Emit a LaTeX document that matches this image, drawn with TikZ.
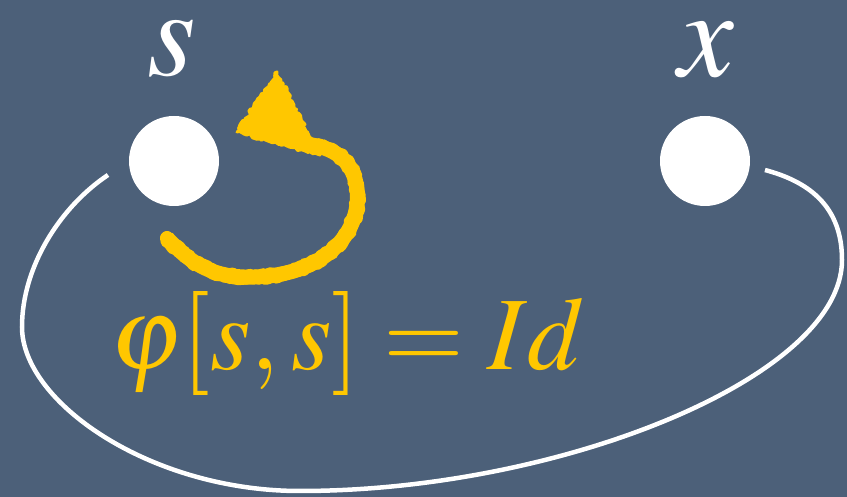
\documentclass[tikz,border=0pt]{standalone}
\usepackage{mathptmx}
\usepackage{xcolor}
\usepackage{tikz}
\usetikzlibrary{decorations.pathmorphing}

\definecolor{slate}{RGB}{76,96,121}
\definecolor{chalk}{RGB}{255,199,0}

\begin{document}
\begin{tikzpicture}[
    x=1pt, y=1pt,
    dot/.style={circle, fill=white, draw=none, minimum size=90pt, inner sep=0pt},
    lbl/.style={text=white, inner sep=0pt, font=\fontsize{125}{130}\selectfont},
    eqn/.style={text=chalk, inner sep=0pt, font=\fontsize{104}{110}\selectfont},
    link/.style={white, line width=4.5pt},
    rough/.style={decorate, line join=round, line cap=round,
        decoration={random steps, segment length=2.5pt, amplitude=1.8pt}},
    chalkline/.style={chalk, line width=15pt},
]

% ─── Background ───
\fill[slate] (0,0) rectangle (847,497);
\useasboundingbox (0,0) rectangle (847,497);

% ─── Objects ───
\node[dot] at (174,336) (s) {};
\node[dot] at (705,336) (x) {};
\node[lbl] at (172,448) (slbl) {$s$};
\node[lbl] at (706,447) (xlbl) {$x$};

% ─── Identity label ───
\node[eqn, anchor=base west] at (110,127) (phi) {$\varphi[s,s] = Id$};

% ─── Chalk loop on s ───
\coordinate (loopTail) at (167,259);
\coordinate (loopEnd)  at (312,352);
\draw[chalkline]
    (loopTail) .. controls (197,226) and (222,219) .. (255,220)
    .. controls (322,222) and (362,262) .. (357,308)
    .. controls (354,334) and (337,348) .. (loopEnd);
\draw[chalkline, rough, line width=14pt]
    (loopTail) .. controls (197,226) and (222,219) .. (255,220)
    .. controls (322,222) and (362,262) .. (357,308)
    .. controls (354,334) and (337,348) .. (loopEnd);
\filldraw[chalk, rough, line width=3pt] (277,425) -- (237,365) -- (320,342) -- cycle;

% ─── Curve from s to x ───
\coordinate (sOut) at (108,322);
\coordinate (xIn)  at (765,327);
\draw[link] (sOut) .. controls (60,290) and (22,230) .. (22,170)
    .. controls (22,95) and (150,6) .. (300,6)
    .. controls (560,6) and (842,120) .. (842,237)
    .. controls (842,290) and (810,315) .. (xIn);

\end{tikzpicture}
\end{document}
